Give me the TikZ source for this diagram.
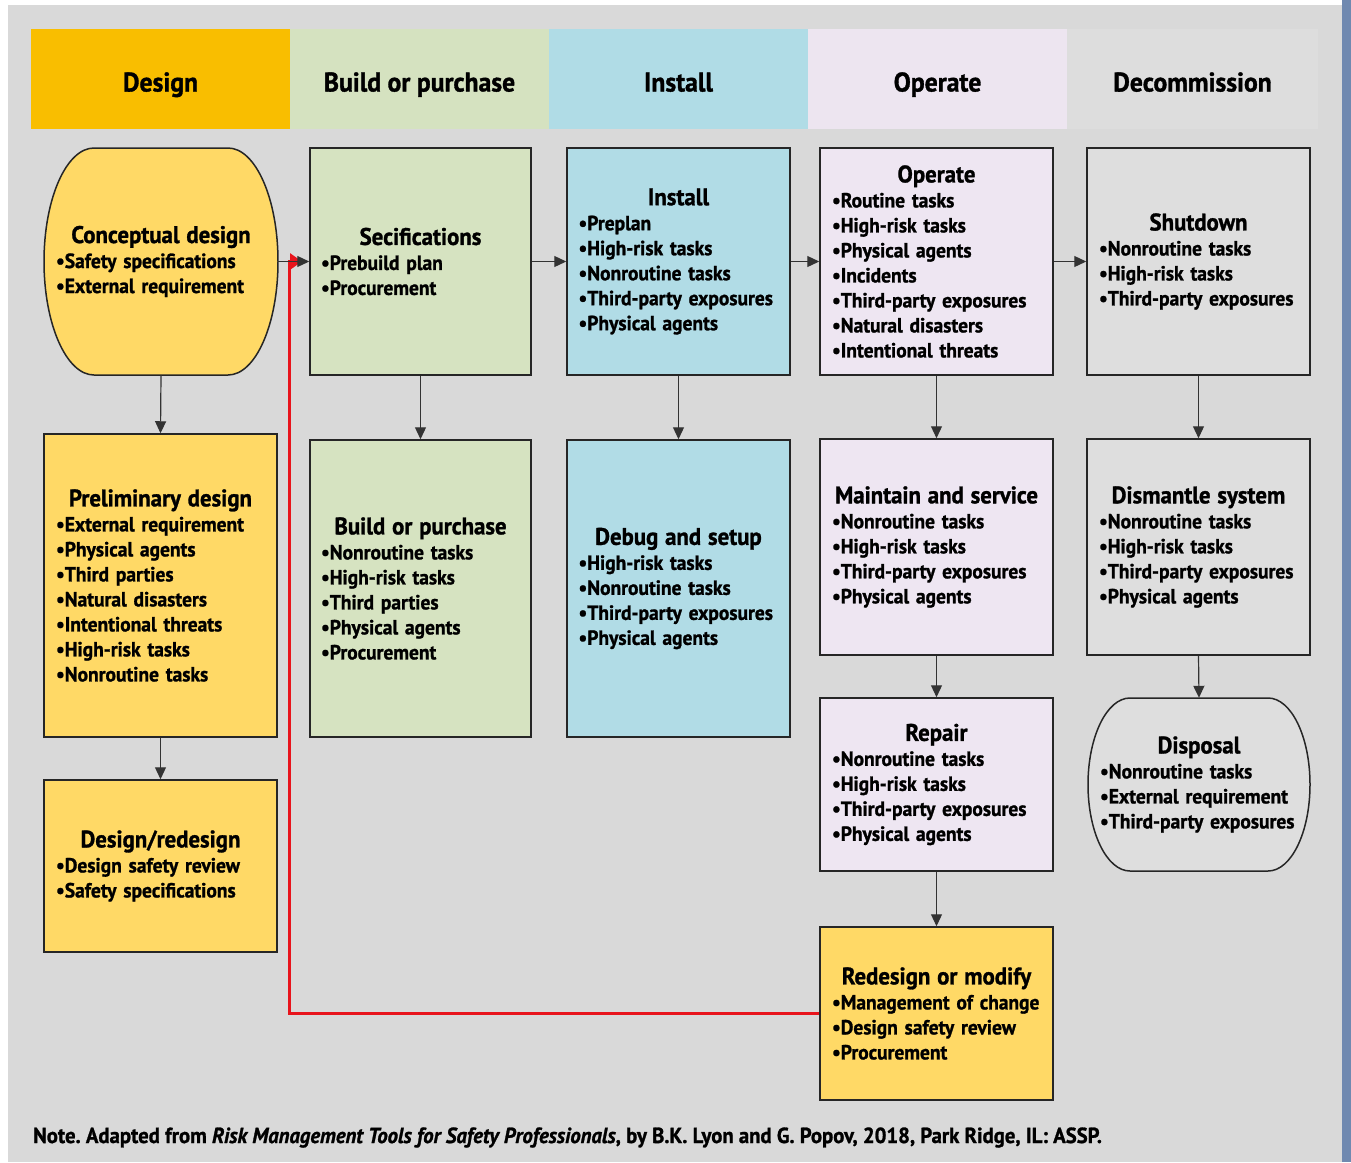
\documentclass[tikz,border=0pt]{standalone}
\usepackage{fontspec}
\setmainfont{PT Sans}[FakeStretch=0.95, BoldFont={PT Sans Bold}, BoldItalicFont={PT Sans Bold Italic}, BoldFeatures={FakeBold=1.2}, BoldItalicFeatures={FakeBold=1.2}]
\usetikzlibrary{arrows.meta,calc}
\frenchspacing
\definecolor{bgc}{HTML}{D9D9D9}
\definecolor{stripc}{HTML}{7089B0}
\definecolor{hdesign}{HTML}{F9BE00}
\definecolor{hbuild}{HTML}{D5E2C0}
\definecolor{hinstall}{HTML}{B0DCE6}
\definecolor{hoperate}{HTML}{EDE5F0}
\definecolor{hdecom}{HTML}{DDDDDD}
\definecolor{yellowbox}{HTML}{FFD966}
\definecolor{buildbox}{HTML}{D6E3C1}
\definecolor{installbox}{HTML}{B1DCE6}
\definecolor{operatebox}{HTML}{EEE6F2}
\definecolor{decombox}{HTML}{DEDEDE}
\definecolor{boxline}{HTML}{262626}
\definecolor{linec}{HTML}{333333}
\definecolor{redc}{HTML}{E8141C}
\newcommand\ttl[1]{\makebox[\hsize]{\fontsize{24}{25}\selectfont #1}}
\tikzset{
  hdr/.style={inner sep=0pt, text height=25pt, text depth=0pt, minimum height=100pt,
    font=\fontsize{27}{30}\selectfont\bfseries},
  stagebox/.style={draw=boxline, line width=1.5pt, inner sep=0pt, align=left,
    font=\fontsize{20.5}{25}\selectfont\bfseries},
  textonly/.style={inner sep=0pt, align=left, font=\fontsize{20.5}{25}\selectfont\bfseries},
  bulge/.style={draw=boxline, line width=1.5pt},
  flow/.style={draw=linec, line width=1.2pt, -{Triangle[length=12pt,width=11pt]}},
  redflow/.style={draw=redc, line width=2.8pt, -{Triangle[length=12pt,width=16pt]}}
}
\begin{document}
\begin{tikzpicture}[x=1pt,y=-1pt]
\useasboundingbox (0,0) rectangle (1351,1162);
\fill[white] (0,0) rectangle (1351,1162);
\fill[bgc] (8,5) rectangle (1342,1162);
\fill[stripc] (1342,0) rectangle (1351,1162);
% header bands
\node[hdr, fill=hdesign, minimum width=259pt] (hdesign) at (160.5,79) {Design};
\node[hdr, fill=hbuild, minimum width=259pt] (hbuild) at (419.5,79) {Build or purchase};
\node[hdr, fill=hinstall, minimum width=259pt] (hinstall) at (678.5,79) {Install};
\node[hdr, fill=hoperate, minimum width=259pt] (hoperate) at (937.5,79) {Operate};
\node[hdr, fill=hdecom, minimum width=251pt] (hdecom) at (1192.5,79) {Decommission};
% bulged shapes
\path[bulge, fill=yellowbox] (94,148) -- (228,148) arc[start angle=90, end angle=-90, x radius=50pt, y radius=113.5pt]
  -- (94,375) arc[start angle=-90, end angle=-270, x radius=50pt, y radius=113.5pt] -- cycle;
\path[bulge, fill=decombox] (1130,698) -- (1268,698) arc[start angle=90, end angle=-90, x radius=42pt, y radius=86.5pt]
  -- (1130,871) arc[start angle=-90, end angle=-270, x radius=42pt, y radius=86.5pt] -- cycle;
% Design column
\node[textonly, minimum width=234pt, minimum height=227pt, text width=210pt] (concept) at (161,261.5)
  {\ttl{Conceptual design}\\•Safety specifications\\•External requirement};
\node[stagebox, fill=yellowbox, minimum width=233pt, minimum height=303pt, text width=209pt] (prelim) at (160.5,585.5)
  {\ttl{Preliminary design}\\•External requirement\\•Physical agents\\•Third parties\\•Natural disasters\\•Intentional threats\\•High-risk tasks\\•Nonroutine tasks};
\node[stagebox, fill=yellowbox, minimum width=233pt, minimum height=172pt, text width=209pt] (dredesign) at (160.5,866)
  {\ttl{Design/redesign}\\•Design safety review\\•Safety specifications};
% Build column
\node[stagebox, fill=buildbox, minimum width=221pt, minimum height=227pt, text width=199pt] (secif) at (420.5,261.5)
  {\ttl{Secifications}\\•Prebuild plan\\•Procurement};
\node[stagebox, fill=buildbox, minimum width=221pt, minimum height=297pt, text width=199pt] (build) at (420.5,588.5)
  {\ttl{Build or purchase}\\•Nonroutine tasks\\•High-risk tasks\\•Third parties\\•Physical agents\\•Procurement};
% Install column
\node[stagebox, fill=installbox, minimum width=223pt, minimum height=227pt, text width=200pt] (install) at (678.5,261.5)
  {\ttl{Install}\\•Preplan\\•High-risk tasks\\•Nonroutine tasks\\•Third-party exposures\\•Physical agents};
\node[stagebox, fill=installbox, minimum width=223pt, minimum height=297pt, text width=200pt] (debug) at (678.5,588.5)
  {\ttl{Debug and setup}\\•High-risk tasks\\•Nonroutine tasks\\•Third-party exposures\\•Physical agents};
% Operate column
\node[stagebox, fill=operatebox, minimum width=233pt, minimum height=227pt, text width=209pt] (operate) at (936.5,261.5)
  {\ttl{Operate}\\•Routine tasks\\•High-risk tasks\\•Physical agents\\•Incidents\\•Third-party exposures\\•Natural disasters\\•Intentional threats};
\node[stagebox, fill=operatebox, minimum width=233pt, minimum height=216pt, text width=209pt] (maintain) at (936.5,547)
  {\ttl{Maintain and service}\\•Nonroutine tasks\\•High-risk tasks\\•Third-party exposures\\•Physical agents};
\node[stagebox, fill=operatebox, minimum width=233pt, minimum height=173pt, text width=209pt] (repair) at (936.5,784.5)
  {\ttl{Repair}\\•Nonroutine tasks\\•High-risk tasks\\•Third-party exposures\\•Physical agents};
\node[stagebox, fill=yellowbox, minimum width=233pt, minimum height=173pt, text width=209pt] (redesign) at (936.5,1013.5)
  {\ttl{Redesign or modify}\\•Management of change\\•Design safety review\\•Procurement};
% Decommission column
\node[stagebox, fill=decombox, minimum width=223pt, minimum height=227pt, text width=199pt] (shutdown) at (1198.5,261.5)
  {\ttl{Shutdown}\\•Nonroutine tasks\\•High-risk tasks\\•Third-party exposures};
\node[stagebox, fill=decombox, minimum width=223pt, minimum height=216pt, text width=199pt] (dismantle) at (1198.5,547)
  {\ttl{Dismantle system}\\•Nonroutine tasks\\•High-risk tasks\\•Third-party exposures\\•Physical agents};
\node[textonly, minimum width=222pt, minimum height=173pt, text width=198pt] (disposal) at (1199,784.5)
  {\ttl{Disposal}\\•Nonroutine tasks\\•External requirement\\•Third-party exposures};
% red feedback connector
\coordinate (redjoint) at (289.5,261.5);
\coordinate (redend) at (302,261.5);
\draw[redflow] (redesign.west) -| (redjoint) -- (redend);
% connectors
\draw[flow] (concept.east) -- (secif.west);
\draw[flow] (secif.east) -- (install.west);
\draw[flow] (install.east) -- (operate.west);
\draw[flow] (operate.east) -- (shutdown.west);
\draw[flow] (concept.south) -- (prelim.north);
\draw[flow] (prelim.south) -- (dredesign.north);
\draw[flow] (secif.south) -- (build.north);
\draw[flow] (install.south) -- (debug.north);
\draw[flow] (operate.south) -- (maintain.north);
\draw[flow] (maintain.south) -- (repair.north);
\draw[flow] (repair.south) -- (redesign.north);
\draw[flow] (shutdown.south) -- (dismantle.north);
\draw[flow] (dismantle.south) -- (disposal.north);
% note
\node[anchor=base west, inner sep=0pt, font=\fontsize{21.8}{24}\selectfont\bfseries] (note) at (33,1143)
  {Note. Adapted from \textit{Risk Management Tools for Safety Professionals}, by B.K. Lyon and G. Popov, 2018, Park Ridge, IL: ASSP.};
\end{tikzpicture}
\end{document}
